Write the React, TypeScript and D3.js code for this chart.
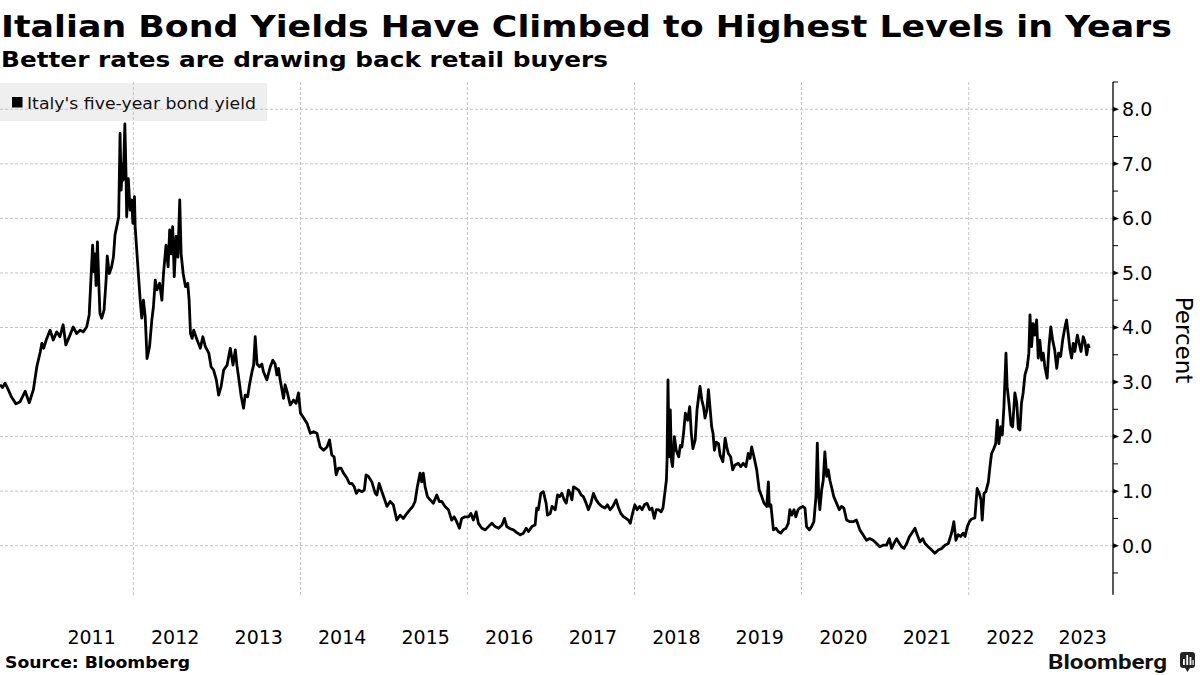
import React from "react";
import * as d3 from "d3";

// Italy five-year BTP yield (percent)
const yields2010: [string, number][] = [
  ["2010-05-28", 2.95], ["2010-06-08", 2.9], ["2010-06-19", 2.98], ["2010-07-03", 2.86],
  ["2010-07-18", 2.72], ["2010-08-06", 2.6], ["2010-08-24", 2.64], ["2010-09-15", 2.83],
  ["2010-10-03", 2.62], ["2010-10-21", 2.86], ["2010-11-05", 3.28], ["2010-11-20", 3.55],
  ["2010-11-27", 3.71], ["2010-12-05", 3.62], ["2010-12-16", 3.77],
];
const yields2011: [string, number][] = [
  ["2011-01-02", 3.95], ["2011-01-16", 3.77], ["2011-01-31", 3.92], ["2011-02-14", 3.83],
  ["2011-02-28", 4.05], ["2011-03-12", 3.68], ["2011-03-30", 3.86], ["2011-04-13", 4.01],
  ["2011-04-28", 3.89], ["2011-05-13", 3.95], ["2011-05-27", 3.92], ["2011-06-11", 4.01],
  ["2011-06-22", 4.23], ["2011-07-07", 5.51], ["2011-07-13", 5.02], ["2011-07-17", 5.35],
  ["2011-07-22", 4.77], ["2011-07-28", 5.57], ["2011-08-03", 4.83], ["2011-08-08", 4.26],
  ["2011-08-16", 4.17], ["2011-08-26", 4.32], ["2011-09-04", 4.87], ["2011-09-09", 5.31],
  ["2011-09-18", 4.99], ["2011-09-28", 5.11], ["2011-10-06", 5.29], ["2011-10-13", 5.7],
  ["2011-10-23", 5.9], ["2011-10-29", 6.03], ["2011-11-04", 7.56], ["2011-11-09", 6.52],
  ["2011-11-14", 7.0], ["2011-11-18", 6.7], ["2011-11-25", 7.73], ["2011-11-30", 6.82],
  ["2011-12-03", 6.03], ["2011-12-10", 6.73], ["2011-12-18", 6.15], ["2011-12-25", 6.34],
  ["2011-12-30", 5.91],
];
const yields2012: [string, number][] = [
  ["2012-01-06", 6.4], ["2012-01-09", 5.85], ["2012-01-16", 5.42], ["2012-01-23", 4.99],
  ["2012-01-31", 4.5], ["2012-02-07", 4.17], ["2012-02-14", 4.5], ["2012-02-22", 4.2],
  ["2012-03-01", 3.43], ["2012-03-12", 3.65], ["2012-03-22", 4.14], ["2012-03-29", 4.38],
  ["2012-04-06", 4.87], ["2012-04-13", 4.69], ["2012-04-25", 4.81], ["2012-05-05", 4.5],
  ["2012-05-12", 4.99], ["2012-05-23", 5.51], ["2012-06-01", 5.11], ["2012-06-08", 5.79],
  ["2012-06-14", 5.35], ["2012-06-21", 5.85], ["2012-06-28", 4.93], ["2012-07-06", 5.67],
  ["2012-07-14", 5.29], ["2012-07-22", 6.34], ["2012-07-28", 5.35], ["2012-08-06", 4.99],
  ["2012-08-16", 4.75], ["2012-08-26", 4.81], ["2012-09-01", 4.5], ["2012-09-07", 3.89],
  ["2012-09-14", 3.8], ["2012-09-21", 3.95], ["2012-10-06", 3.77], ["2012-10-20", 3.62],
  ["2012-10-31", 3.83], ["2012-11-11", 3.65], ["2012-11-26", 3.53], ["2012-12-06", 3.28],
  ["2012-12-17", 3.22], ["2012-12-29", 3.04],
];
const yields2013: [string, number][] = [
  ["2013-01-08", 2.76], ["2013-01-19", 2.92], ["2013-01-30", 3.22], ["2013-02-14", 3.31],
  ["2013-02-28", 3.62], ["2013-03-12", 3.31], ["2013-03-22", 3.59], ["2013-03-29", 3.31],
  ["2013-04-05", 3.1], ["2013-04-17", 2.73], ["2013-04-27", 2.52], ["2013-05-04", 2.76],
  ["2013-05-15", 2.73], ["2013-05-23", 2.95], ["2013-06-03", 3.19], ["2013-06-10", 3.31],
  ["2013-06-17", 3.83], ["2013-06-25", 3.33], ["2013-07-06", 3.28], ["2013-07-16", 3.33],
  ["2013-07-23", 3.19], ["2013-08-07", 3.04], ["2013-08-22", 3.28], ["2013-09-02", 3.4],
  ["2013-09-12", 3.33], ["2013-09-20", 3.13], ["2013-09-27", 3.25], ["2013-10-04", 3.04],
  ["2013-10-19", 2.7], ["2013-10-26", 2.95], ["2013-11-05", 2.8], ["2013-11-17", 2.58],
  ["2013-12-02", 2.67], ["2013-12-13", 2.61], ["2013-12-23", 2.8],
];
const yields2014: [string, number][] = [
  ["2014-01-01", 2.43], ["2014-01-15", 2.34], ["2014-01-30", 2.24], ["2014-02-13", 2.06],
  ["2014-02-27", 2.09], ["2014-03-14", 2.06], ["2014-03-28", 1.81], ["2014-04-12", 1.75],
  ["2014-04-27", 1.81], ["2014-05-08", 1.94], ["2014-05-18", 1.66], ["2014-05-28", 1.63],
  ["2014-06-06", 1.3], ["2014-06-16", 1.42], ["2014-06-28", 1.42], ["2014-07-08", 1.33],
  ["2014-07-23", 1.24], ["2014-08-03", 1.14], ["2014-08-14", 1.14], ["2014-08-24", 1.08],
  ["2014-09-02", 0.96], ["2014-09-12", 1.02], ["2014-09-27", 0.99], ["2014-10-07", 1.02],
  ["2014-10-15", 1.3], ["2014-10-25", 1.27], ["2014-11-09", 1.17], ["2014-11-24", 0.96],
  ["2014-12-01", 0.93], ["2014-12-11", 1.14], ["2014-12-23", 0.99],
];
const yields2015: [string, number][] = [
  ["2015-01-02", 0.87], ["2015-01-14", 0.72], ["2015-01-28", 0.81], ["2015-02-11", 0.75],
  ["2015-02-26", 0.47], ["2015-03-13", 0.56], ["2015-03-27", 0.5], ["2015-04-11", 0.59],
  ["2015-04-25", 0.66], ["2015-05-07", 0.72], ["2015-05-17", 0.81], ["2015-05-27", 1.08],
  ["2015-06-08", 1.33], ["2015-06-15", 1.17], ["2015-06-22", 1.33], ["2015-06-30", 1.08],
  ["2015-07-10", 0.9], ["2015-07-22", 0.84], ["2015-08-05", 0.78], ["2015-08-20", 0.93],
  ["2015-08-31", 0.81], ["2015-09-11", 0.81], ["2015-09-25", 0.72], ["2015-10-10", 0.66],
  ["2015-10-24", 0.47], ["2015-11-04", 0.53], ["2015-11-15", 0.44], ["2015-11-27", 0.32],
  ["2015-12-07", 0.5], ["2015-12-22", 0.53],
];
const yields2016: [string, number][] = [
  ["2016-01-06", 0.53], ["2016-01-16", 0.59], ["2016-01-27", 0.47], ["2016-02-08", 0.62],
  ["2016-02-18", 0.41], ["2016-03-04", 0.32], ["2016-03-19", 0.29], ["2016-04-02", 0.35],
  ["2016-04-17", 0.41], ["2016-05-01", 0.35], ["2016-05-16", 0.32], ["2016-05-31", 0.38],
  ["2016-06-11", 0.5], ["2016-06-21", 0.35], ["2016-07-06", 0.31], ["2016-07-20", 0.29],
  ["2016-08-04", 0.24], ["2016-08-19", 0.2], ["2016-09-02", 0.23], ["2016-09-14", 0.32],
  ["2016-09-24", 0.26], ["2016-10-09", 0.35], ["2016-10-23", 0.38], ["2016-10-30", 0.69],
  ["2016-11-06", 0.66], ["2016-11-17", 0.96], ["2016-11-28", 0.99], ["2016-12-10", 0.78],
  ["2016-12-16", 0.56], ["2016-12-28", 0.59],
];
const yields2017: [string, number][] = [
  ["2017-01-05", 0.72], ["2017-01-19", 0.66], ["2017-01-29", 0.93], ["2017-02-07", 0.9],
  ["2017-02-17", 0.96], ["2017-02-27", 0.84], ["2017-03-08", 0.78], ["2017-03-18", 1.02],
  ["2017-03-25", 0.96], ["2017-04-02", 0.84], ["2017-04-09", 1.08], ["2017-04-20", 1.05],
  ["2017-05-01", 1.02], ["2017-05-12", 0.93], ["2017-05-22", 0.9], ["2017-06-03", 0.78],
  ["2017-06-13", 0.66], ["2017-06-24", 0.78], ["2017-07-05", 0.96], ["2017-07-17", 0.84],
  ["2017-07-27", 0.78], ["2017-08-11", 0.72], ["2017-08-25", 0.69], ["2017-09-04", 0.75],
  ["2017-09-16", 0.66], ["2017-09-28", 0.72], ["2017-10-12", 0.84], ["2017-10-23", 0.69],
  ["2017-11-02", 0.59], ["2017-11-14", 0.53], ["2017-11-25", 0.5], ["2017-12-05", 0.47],
  ["2017-12-13", 0.41], ["2017-12-23", 0.59],
];
const yields2018: [string, number][] = [
  ["2018-01-02", 0.75], ["2018-01-12", 0.66], ["2018-01-23", 0.72], ["2018-02-03", 0.66],
  ["2018-02-13", 0.75], ["2018-02-24", 0.78], ["2018-03-08", 0.66], ["2018-03-18", 0.69],
  ["2018-03-28", 0.5], ["2018-04-06", 0.66], ["2018-04-16", 0.66], ["2018-04-27", 0.62],
  ["2018-05-05", 0.69], ["2018-05-13", 0.96], ["2018-05-20", 1.2], ["2018-05-23", 1.57],
  ["2018-05-27", 3.04], ["2018-06-01", 1.63], ["2018-06-06", 2.49], ["2018-06-11", 1.57],
  ["2018-06-16", 1.45], ["2018-06-24", 2.0], ["2018-07-02", 1.75], ["2018-07-13", 1.63],
  ["2018-07-20", 1.84], ["2018-07-27", 1.81], ["2018-08-03", 2.06], ["2018-08-11", 2.43],
  ["2018-08-21", 2.3], ["2018-08-30", 2.55], ["2018-09-06", 2.06], ["2018-09-13", 1.78],
  ["2018-09-23", 1.94], ["2018-10-01", 2.49], ["2018-10-08", 2.73], ["2018-10-14", 2.92],
  ["2018-10-22", 2.67], ["2018-10-29", 2.55], ["2018-11-05", 2.34], ["2018-11-13", 2.49],
  ["2018-11-20", 2.86], ["2018-11-27", 2.52], ["2018-12-04", 2.18], ["2018-12-10", 2.06],
  ["2018-12-16", 1.75], ["2018-12-24", 1.9],
];
const yields2019: [string, number][] = [
  ["2019-01-03", 1.87], ["2019-01-10", 1.66], ["2019-01-22", 1.54], ["2019-02-01", 1.97],
  ["2019-02-08", 1.81], ["2019-02-15", 1.69], ["2019-02-25", 1.63], ["2019-03-06", 1.39],
  ["2019-03-16", 1.48], ["2019-03-31", 1.51], ["2019-04-10", 1.45], ["2019-04-21", 1.51],
  ["2019-05-03", 1.45], ["2019-05-13", 1.69], ["2019-05-21", 1.6], ["2019-05-28", 1.81],
  ["2019-06-07", 1.63], ["2019-06-19", 1.39], ["2019-06-30", 1.02], ["2019-07-11", 0.9],
  ["2019-07-21", 0.78], ["2019-08-02", 0.72], ["2019-08-09", 1.17], ["2019-08-13", 0.72],
  ["2019-08-20", 0.75], ["2019-08-31", 0.29], ["2019-09-11", 0.32], ["2019-09-21", 0.26],
  ["2019-10-02", 0.23], ["2019-10-13", 0.29], ["2019-10-25", 0.32], ["2019-11-04", 0.41],
  ["2019-11-11", 0.66], ["2019-11-19", 0.56], ["2019-11-29", 0.66], ["2019-12-07", 0.53],
  ["2019-12-17", 0.66], ["2019-12-25", 0.69],
];
const yields2020: [string, number][] = [
  ["2020-01-06", 0.72], ["2020-01-16", 0.69], ["2020-01-23", 0.35], ["2020-02-04", 0.29],
  ["2020-02-14", 0.35], ["2020-02-24", 0.44], ["2020-03-04", 0.9], ["2020-03-10", 1.88],
  ["2020-03-16", 0.9], ["2020-03-21", 0.66], ["2020-03-29", 1.02], ["2020-04-05", 1.2],
  ["2020-04-12", 1.72], ["2020-04-20", 1.27], ["2020-04-27", 1.39], ["2020-05-04", 1.2],
  ["2020-05-11", 1.08], ["2020-05-21", 0.9], ["2020-06-02", 0.78], ["2020-06-14", 0.66],
  ["2020-06-24", 0.72], ["2020-07-04", 0.69], ["2020-07-16", 0.47], ["2020-07-30", 0.44],
  ["2020-08-14", 0.44], ["2020-08-28", 0.47], ["2020-09-12", 0.29], ["2020-09-26", 0.2],
  ["2020-10-11", 0.1], ["2020-10-25", 0.13], ["2020-11-09", 0.1], ["2020-11-24", 0.04],
  ["2020-12-08", -0.02], ["2020-12-23", 0.01],
];
const yields2021: [string, number][] = [
  ["2021-01-07", 0.01], ["2021-01-19", 0.13], ["2021-01-29", -0.05], ["2021-02-08", 0.04],
  ["2021-02-20", 0.13], ["2021-03-04", 0.04], ["2021-03-14", -0.02], ["2021-03-24", -0.05],
  ["2021-04-05", 0.04], ["2021-04-16", 0.16], ["2021-04-27", 0.23], ["2021-05-11", 0.32],
  ["2021-05-21", 0.2], ["2021-06-02", 0.07], ["2021-06-14", 0.13], ["2021-06-24", 0.04],
  ["2021-07-08", -0.02], ["2021-07-23", -0.08], ["2021-08-06", -0.14], ["2021-08-21", -0.08],
  ["2021-09-05", -0.05], ["2021-09-19", 0.01], ["2021-10-04", 0.04], ["2021-10-18", 0.23],
  ["2021-10-28", 0.44], ["2021-11-06", 0.1], ["2021-11-16", 0.2], ["2021-11-27", 0.17],
  ["2021-12-08", 0.23], ["2021-12-16", 0.17], ["2021-12-26", 0.35],
];
const yields2022: [string, number][] = [
  ["2022-01-04", 0.44], ["2022-01-14", 0.49], ["2022-01-28", 0.51], ["2022-02-07", 1.05],
  ["2022-02-16", 0.96], ["2022-02-24", 0.84], ["2022-03-01", 0.47], ["2022-03-09", 0.96],
  ["2022-03-17", 0.99], ["2022-03-28", 1.17], ["2022-04-04", 1.45], ["2022-04-11", 1.69],
  ["2022-04-18", 1.75], ["2022-04-29", 1.87], ["2022-05-06", 2.3], ["2022-05-13", 1.87],
  ["2022-05-21", 2.18], ["2022-05-28", 2.03], ["2022-06-04", 2.55], ["2022-06-13", 3.53],
  ["2022-06-18", 2.92], ["2022-06-26", 2.62], ["2022-07-05", 2.21], ["2022-07-12", 2.18],
  ["2022-07-22", 2.8], ["2022-07-30", 2.62], ["2022-08-06", 2.15], ["2022-08-13", 2.12],
  ["2022-08-20", 2.62], ["2022-08-27", 2.8], ["2022-09-04", 3.13], ["2022-09-14", 3.28],
  ["2022-09-21", 3.53], ["2022-09-26", 4.23], ["2022-10-03", 3.65], ["2022-10-10", 4.07],
  ["2022-10-17", 3.86], ["2022-10-25", 4.14], ["2022-11-01", 3.44], ["2022-11-08", 3.77],
  ["2022-11-16", 3.4], ["2022-11-23", 3.53], ["2022-11-30", 3.28], ["2022-12-10", 3.07],
  ["2022-12-18", 3.65], ["2022-12-26", 4.01],
];
const yields2023: [string, number][] = [
  ["2023-01-03", 3.77], ["2023-01-12", 3.59], ["2023-01-21", 3.25], ["2023-01-29", 3.53],
  ["2023-02-07", 3.47], ["2023-02-16", 3.77], ["2023-02-26", 4.01], ["2023-03-05", 4.14],
  ["2023-03-12", 3.89], ["2023-03-20", 3.59], ["2023-03-27", 3.44], ["2023-04-03", 3.71],
  ["2023-04-10", 3.56], ["2023-04-21", 3.86], ["2023-04-29", 3.71], ["2023-05-07", 3.56],
  ["2023-05-17", 3.83], ["2023-05-24", 3.74], ["2023-06-01", 3.5], ["2023-06-08", 3.68],
  ["2023-06-12", 3.62],
];

const yearLabels = [2011, 2012, 2013, 2014, 2015, 2016, 2017, 2018, 2019, 2020, 2021, 2022, 2023];
const gridYears = [2012, 2014, 2016, 2018, 2020, 2022];
const yTicks = [0, 1, 2, 3, 4, 5, 6, 7, 8];
const xDomain = ["2010-05-28", "2023-09-24"];

const titleText = "Italian Bond Yields Have Climbed to Highest Levels in Years";
const subtitleText = "Better rates are drawing back retail buyers";
const legendText = "Italy's five-year bond yield";
const axisTitle = "Percent";
const sourceText = "Source: Bloomberg";

export default function App() {
  const parse = d3.utcParse("%Y-%m-%d");
  const all = [
    ...yields2010, ...yields2011, ...yields2012, ...yields2013, ...yields2014,
    ...yields2015, ...yields2016, ...yields2017, ...yields2018, ...yields2019,
    ...yields2020, ...yields2021, ...yields2022, ...yields2023,
  ].map(([d, v]) => ({ date: parse(d) as Date, value: v }));

  const plotL = 0;
  const plotR = 1113;
  const x = d3.scaleUtc().domain(xDomain.map((d) => parse(d) as Date)).range([plotL, plotR]);
  const y = d3.scaleLinear().domain([-0.9, 8.5]).range([594.8, 82]);
  const yTop = y(8.5);
  const yBot = y(-0.9);

  const line = d3
    .line<{ date: Date; value: number }>()
    .x((d) => x(d.date))
    .y((d) => y(d.value));

  const minorTicks = d3.range(-0.5, 8.51, 1);
  const font = "'DejaVu Sans', Verdana, sans-serif";

  return (
    <svg
      width={1200}
      height={675}
      style={{ position: "absolute", left: 0, top: 0, background: "#fff" }}
      fontFamily={font}
    >
      <rect x={0} y={0} width={1200} height={675} fill="#ffffff" />
      {/* Title & subtitle */}
      <text x={1} y={37} fontSize={31} fontWeight="bold" fill="#000" textLength={1171} lengthAdjust="spacingAndGlyphs">
        {titleText}
      </text>
      <text x={1} y={67} fontSize={21} fontWeight="bold" fill="#000" textLength={607} lengthAdjust="spacingAndGlyphs">
        {subtitleText}
      </text>

      {/* Legend background */}
      <rect x={0} y={83} width={267} height={38} fill="#efefef" />

      {/* Gridlines */}
      {yTicks.map((t) => (
        <line key={"hg" + t} x1={plotL} x2={plotR} y1={y(t)} y2={y(t)} stroke="#c4c4c4" strokeWidth={1} strokeDasharray="3,2" />
      ))}
      {gridYears.map((yr) => {
        const gx = x(new Date(Date.UTC(yr, 0, 1)));
        return (
          <line key={"vg" + yr} x1={gx} x2={gx} y1={yTop} y2={597} stroke="#c4c4c4" strokeWidth={1} strokeDasharray="3,2" />
        );
      })}

      {/* Legend */}
      <rect x={12} y={97} width={10.5} height={10.5} fill="#000" />
      <text x={27} y={109} fontSize={16.5} fill="#111" textLength={229} lengthAdjust="spacingAndGlyphs">
        {legendText}
      </text>

      {/* Line */}
      <path d={line(all) || ""} fill="none" stroke="#000" strokeWidth={2.8} strokeLinejoin="round" />

      {/* Right axis */}
      <line x1={plotR} x2={plotR} y1={yTop} y2={yBot} stroke="#000" strokeWidth={1.3} />
      {minorTicks.map((t) => (
        <line key={"mt" + t} x1={plotR} x2={plotR + 5} y1={y(t)} y2={y(t)} stroke="#000" strokeWidth={1} />
      ))}
      {yTicks.map((t) => (
        <g key={"yt" + t}>
          <path d={`M${plotR},${y(t) - 2.5}L${plotR + 6},${y(t)}L${plotR},${y(t) + 2.5}Z`} fill="#000" />
          <text x={plotR + 9} y={y(t)} dy="0.36em" fontSize={19} fill="#000">
            {t.toFixed(1)}
          </text>
        </g>
      ))}
      <text transform={`translate(1176,340) rotate(90)`} textAnchor="middle" fontSize={23} fill="#000">
        {axisTitle}
      </text>

      {/* X labels */}
      {yearLabels.map((yr) => {
        const a = x(new Date(Date.UTC(yr, 0, 1)));
        const b = Math.min(x(new Date(Date.UTC(yr + 1, 0, 1))), plotR);
        return (
          <text key={"xl" + yr} x={(a + b) / 2} y={644} textAnchor="middle" fontSize={19} fill="#000">
            {yr}
          </text>
        );
      })}

      {/* Footer */}
      <text x={5} y={668} fontSize={16} fontWeight="bold" fill="#000" textLength={185} lengthAdjust="spacingAndGlyphs">
        {sourceText}
      </text>
      <text x={1048} y={669} fontSize={20} fontWeight="bold" fontFamily="Roboto, 'DejaVu Sans', sans-serif" fill="#111" textLength={119} lengthAdjust="spacingAndGlyphs">
        Bloomberg
      </text>
      <g>
        <rect x={1180} y={652} width={15} height={16} rx={3} fill="#222" />
        <path d="M1185,668 L1187.5,672 L1190,668 Z" fill="#222" />
        <rect x={1183} y={659} width={1.8} height={6} fill="#fff" />
        <rect x={1186.3} y={655} width={1.8} height={10} fill="#fff" />
        <rect x={1189.6} y={657} width={1.8} height={8} fill="#fff" />
        <rect x={1192.5} y={660} width={1.2} height={5} fill="#fff" />
      </g>
    </svg>
  );
}
